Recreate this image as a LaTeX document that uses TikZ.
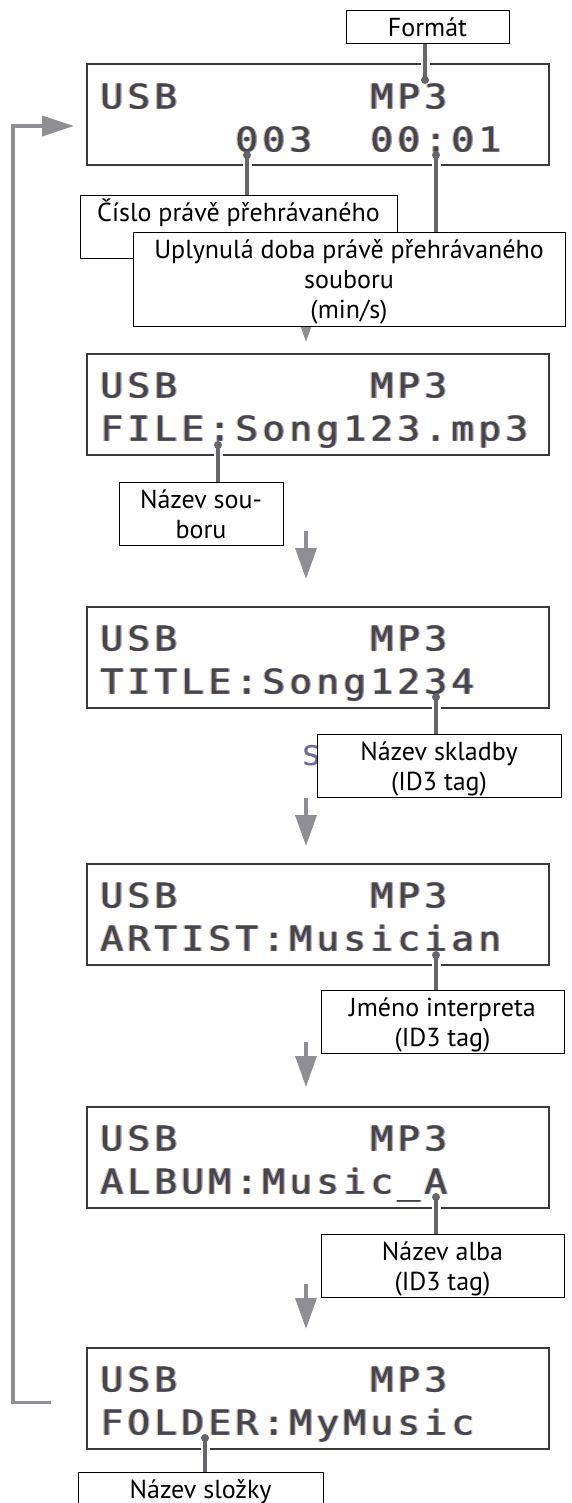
\documentclass[tikz,border=0pt]{standalone}
\usepackage{fontspec}
\setmainfont{PT Sans}
\newfontfamily\lcdfont[FakeBold=0.25,FakeStretch=1.12]{DejaVu Sans Mono}
\usetikzlibrary{arrows.meta}

\definecolor{lcdink}{HTML}{46464A}
\definecolor{lcdwarm}{HTML}{C8843C}
\definecolor{lcdcool}{HTML}{3C50C8}
\definecolor{lcdghost}{HTML}{6A6C9C}
\definecolor{flowgray}{HTML}{8F8F93}
\definecolor{conngray}{HTML}{66666A}
\definecolor{framegray}{HTML}{3A3A3C}

% one LCD character cell = 27pt wide
\makeatletter
\newcommand\lcdcells[1]{\@tfor\lcd@c:=#1\do{\makebox[27pt][c]{\lcd@c}}}
\makeatother

% LCD text with a slight colour fringe: name, column, baseline, text
\newcommand\lcdrow[4]{%
  \node[lcdtxt,text=lcdwarm,opacity=.5] (#1w) at (96.8+27*#2,#3) {\lcdcells{#4}};
  \node[lcdtxt,text=lcdcool,opacity=.5] (#1c) at (99.2+27*#2,#3) {\lcdcells{#4}};
  \node[lcdtxt] (#1) at (98+27*#2,#3) {\lcdcells{#4}};}

% struts for the first and last line of a label
\newcommand\lbltop{\rule{0pt}{26pt}}
\newcommand\lblbot{\rule[-7pt]{0pt}{7pt}}

\begin{document}
\begin{tikzpicture}[x=1pt,y=-1pt,
  lcdbox/.style={draw=framegray,line width=2pt,minimum width=462pt,minimum height=101pt,inner sep=0pt},
  lcdtxt/.style={anchor=base west,inner sep=0pt,font=\lcdfont\fontsize{34}{34}\selectfont,text=lcdink},
  lblbox/.style={draw=black,line width=1pt,fill=white,align=center,inner sep=0pt,
                 font=\fontsize{26}{30}\selectfont},
  flow/.style={draw=flowgray,line width=3.5pt,-{Triangle[length=31pt,width=21pt]}},
  conn/.style={draw=conngray,line width=3.5pt},
  gap/.style={draw=white,line width=9pt},
  dotmark/.style={fill=conngray}]

\useasboundingbox (0,0) rectangle (571,1503);
\clip (0,0) rectangle (571,1503);

% display panels
\node[lcdbox] (d1) at (318,115) {};
\node[lcdbox] (d2) at (318,404.5) {};
\node[lcdbox] (d3) at (318,657.5) {};
\node[lcdbox] (d4) at (318,914.5) {};
\node[lcdbox] (d5) at (318,1157.5) {};
\node[lcdbox] (d6) at (318,1398.5) {};

% flow between the panels
\draw[flow] ([xshift=-12pt,yshift=-135pt]d1.south) -- ([xshift=-12pt,yshift=11pt]d2.north);
\draw[flow] ([xshift=-12pt,yshift=-75pt]d2.south) -- ([xshift=-12pt,yshift=27pt]d3.north);
\draw[flow] ([xshift=-12pt,yshift=-89pt]d3.south) -- ([xshift=-12pt,yshift=17pt]d4.north);
\draw[flow] ([xshift=-12pt,yshift=-76pt]d4.south) -- ([xshift=-12pt,yshift=19pt]d5.north);
\draw[flow] ([xshift=-12pt,yshift=-75pt]d5.south) -- ([xshift=-12pt,yshift=18pt]d6.north);
% return loop
\draw[flow,-{Triangle[length=32pt,width=20pt]}]
  ([xshift=-35pt,yshift=-4pt]d6.west) -- ++(-38pt,0) |- ([xshift=-12pt,yshift=-11pt]d1.west);

% display contents
\lcdrow{t1a}{0}{108.5}{USB}
\lcdrow{t1b}{10}{108.5}{MP3}
\lcdrow{t1c}{5}{151.5}{003}
\lcdrow{t1d}{10}{151.5}{00:01}

\lcdrow{t2a}{0}{397.5}{USB}
\lcdrow{t2b}{10}{397.5}{MP3}
\lcdrow{t2c}{0}{440.5}{FILE:Song123.mp3}

\lcdrow{t3a}{0}{650.5}{USB}
\lcdrow{t3b}{10}{650.5}{MP3}
\lcdrow{t3c}{0}{693.5}{TITLE:Song1234}

\lcdrow{t4a}{0}{907.5}{USB}
\lcdrow{t4b}{10}{907.5}{MP3}
\lcdrow{t4c}{0}{950.5}{ARTIST:Musician}

\lcdrow{t5a}{0}{1150.5}{USB}
\lcdrow{t5b}{10}{1150.5}{MP3}
\lcdrow{t5c}{0}{1193.5}{ALBUM:Music\_A}

\lcdrow{t6a}{0}{1391.5}{USB}
\lcdrow{t6b}{10}{1391.5}{MP3}
\lcdrow{t6c}{0}{1434.5}{FOLDER:MyMusic}

% pointer ends
\coordinate (p1) at (425,80);
\coordinate (p2) at (247,155);
\coordinate (p3) at (436,155);
\coordinate (p4) at (218,445);
\coordinate (p5) at (436,697);
\coordinate (p6) at (436,955);
\coordinate (p7) at (436,1197);
\coordinate (p8) at (205,1438);

% label boxes
\node[lblbox,minimum width=163pt,minimum height=32pt] (fmt) at (427.5,27) {\lbltop Formát\lblbot};
\node[lblbox,minimum width=317pt,minimum height=61pt] (cislo) at (238.5,227.5) {\lbltop Číslo právě přehrávaného\\\lblbot};
\node[lblbox,minimum width=164pt,minimum height=61pt] (soub) at (201,513.5) {\lbltop Název sou-\\boru\lblbot};
\node[lcdtxt,font=\lcdfont\fontsize{27}{27}\selectfont,text=lcdghost] (ghost) at (302,765) {S};
\node[lblbox,minimum width=244pt,minimum height=62pt] (skl) at (439,766) {\lbltop Název skladby\\(ID3 tag)\lblbot};
\node[lblbox,minimum width=243pt,minimum height=63pt] (interp) at (442.5,1021.5) {\lbltop Jméno interpreta\\(ID3 tag)\lblbot};
\node[lblbox,minimum width=243pt,minimum height=62pt] (alba) at (442.5,1266) {\lbltop Název alba\\(ID3 tag)\lblbot};
\node[lblbox,minimum width=245pt,minimum height=62pt] (slozka) at (200.5,1504) {\lbltop Název složky\\\lblbot};

% pointers: break in the frame, line, end dot
\draw[gap] (p1 |- d1.north) ++(0,-3) -- ++(0,6);
\draw[conn] (p1 |- fmt.south) -- (p1);
\fill[dotmark] (p1) circle (4);

\draw[gap] (p2 |- d1.south) ++(0,-3) -- ++(0,6);
\draw[conn] (p2) -- (p2 |- cislo.north);
\fill[dotmark] (p2) circle (4);

\draw[gap] (p3 |- d1.south) ++(0,-3) -- ++(0,6);
\draw[conn] (p3) -- (p3 |- cislo.north) -- ++(0,37);
\fill[dotmark] (p3) circle (4);

\draw[gap] (p4 |- d2.south) ++(0,-3) -- ++(0,6);
\draw[conn] (p4) -- (p4 |- soub.north);
\fill[dotmark] (p4) circle (4);

\draw[gap] (p5 |- d3.south) ++(0,-3) -- ++(0,6);
\draw[conn] (p5) -- (p5 |- skl.north);
\fill[dotmark] (p5) circle (4);

\draw[gap] (p6 |- d4.south) ++(0,-3) -- ++(0,6);
\draw[conn] (p6) -- (p6 |- interp.north);
\fill[dotmark] (p6) circle (4);

\draw[gap] (p7 |- d5.south) ++(0,-3) -- ++(0,6);
\draw[conn] (p7) -- (p7 |- alba.north);
\fill[dotmark] (p7) circle (4);

\draw[gap] (p8 |- d6.south) ++(0,-3) -- ++(0,6);
\draw[conn] (p8) -- (p8 |- slozka.north);
\fill[dotmark] (p8) circle (4);

% the elapsed-time label lies over the track-number label
\node[lblbox,minimum width=432pt,minimum height=91pt] (uplyn) at (349,279.5)
  {\lbltop Uplynulá doba právě přehrávaného\\souboru\\(min/s)\lblbot};
\end{tikzpicture}
\end{document}
